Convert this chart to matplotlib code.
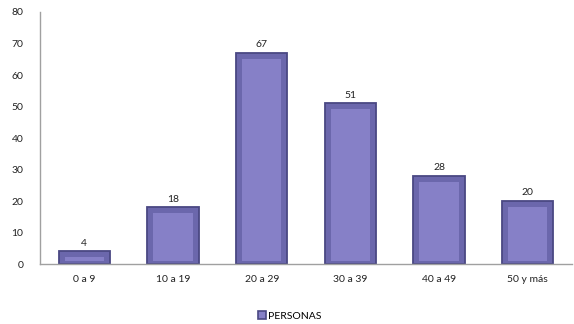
import matplotlib
matplotlib.use("Agg")
import matplotlib.pyplot as plt
from matplotlib.patches import Patch

categories = ["0 a 9", "10 a 19", "20 a 29", "30 a 39", "40 a 49", "50 y más"]
personas = [4, 18, 67, 51, 28, 20]
yticks = [0, 10, 20, 30, 40, 50, 60, 70, 80]

FONT = "Lato"
EDGE = "#4a4883"
FACE = "#6b67ac"
INNER = "#8680c7"

fig = plt.figure(figsize=(5.74, 3.24), dpi=100)
ax = fig.add_axes([0.0697, 0.185, 0.927, 0.778])

x = range(len(categories))
ax.bar(x, personas, width=0.58, color=FACE, edgecolor=EDGE, linewidth=1.3, zorder=2)
# inner lighter panel for the bevelled look
ax.bar(x, [max(v - 2.9, 0.3) for v in personas], bottom=1.0, width=0.445,
       color=INNER, linewidth=0, zorder=3)

for i, v in enumerate(personas):
    ax.text(i, v + 1.2, str(v), ha="center", va="bottom", fontsize=7.5,
            family=FONT, color="#222222")

ax.set_xlim(-0.5, len(categories) - 0.5)
ax.set_ylim(0, 80)
ax.set_yticks(yticks)
ax.set_yticklabels([str(v) for v in yticks], family=FONT, fontsize=7.5)
ax.set_xticks(list(x))
ax.set_xticklabels(categories, family=FONT, fontsize=7.5)
ax.tick_params(axis="both", length=0, pad=8, colors="#222222")
ax.tick_params(axis="y", pad=12)

for side in ("top", "right"):
    ax.spines[side].set_visible(False)
for side in ("left", "bottom"):
    ax.spines[side].set_color("#a0a0a0")
    ax.spines[side].set_linewidth(1.0)

handle = Patch(facecolor=INNER, edgecolor=EDGE, linewidth=1.2)
fig.legend([handle], ["PERSONAS"], loc="center", bbox_to_anchor=(0.505, 0.025),
           frameon=False, prop={"family": FONT, "size": 7.5},
           handlelength=0.8, handleheight=0.8, handletextpad=0.2)

fig.savefig("out.png", dpi=100)
